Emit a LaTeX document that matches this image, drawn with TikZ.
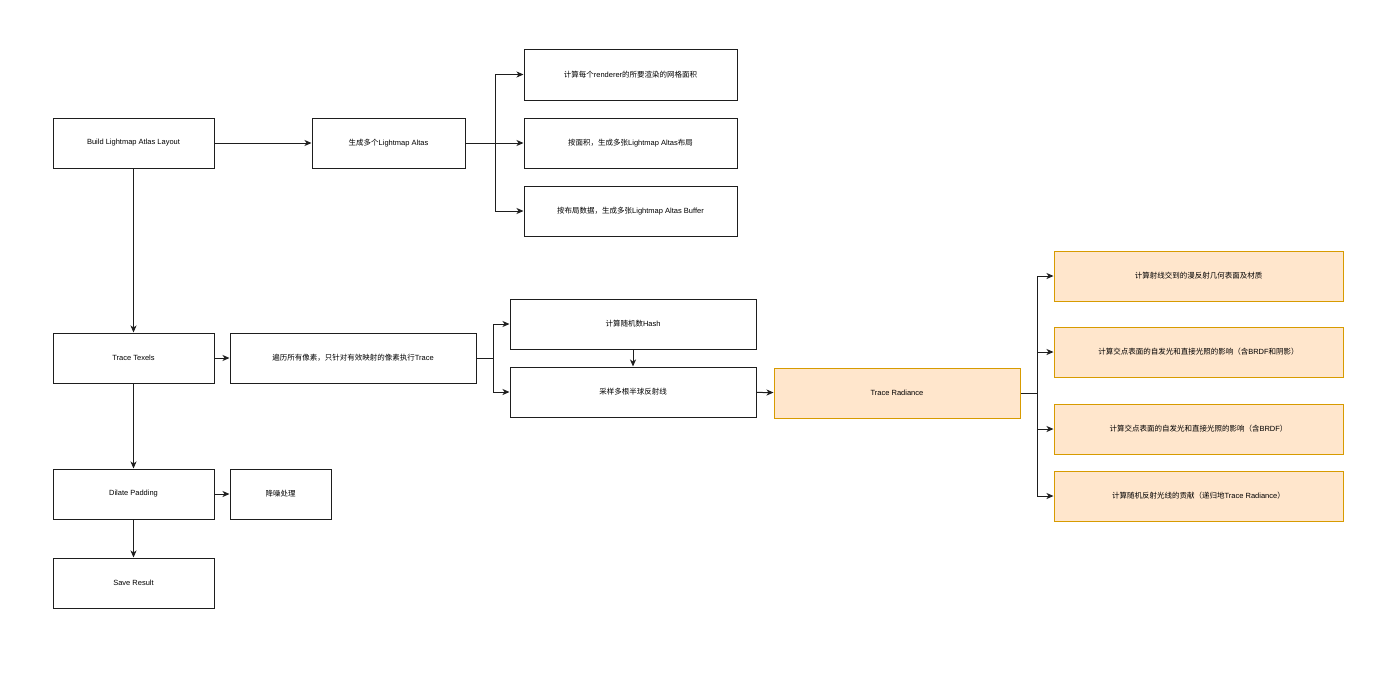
\documentclass[tikz,border=0pt]{standalone}
\usepackage{fontspec}
\setmainfont{Liberation Sans}
\newfontfamily\cjk{Noto Sans CJK SC}
\usetikzlibrary{arrows.meta}
\definecolor{linec}{RGB}{30,30,30}
\definecolor{orfill}{RGB}{255,230,204}
\definecolor{ordraw}{RGB}{215,155,0}
\tikzset{
  box/.style={draw=linec,line width=1pt,fill=white,inner sep=0pt,align=center,text=black,font=\fontsize{7.5}{9}\selectfont},
  obox/.style={box,draw=ordraw,fill=orfill},
  arr/.style={draw=linec,line width=1pt,-{Stealth[length=7pt,width=6pt,inset=2pt]}},
  ln/.style={draw=linec,line width=1pt}
}
\begin{document}
\begin{tikzpicture}[x=1pt,y=-1pt]
\useasboundingbox (0,0) rectangle (1389,681);
\node[box,minimum width=161pt,minimum height=50pt] (build) at (133.5,143) {Build Lightmap Atlas Layout};
\node[box,minimum width=153pt,minimum height=50pt] (gen) at (388.5,143) {{\cjk 生成多个}Lightmap Altas};
\node[box,minimum width=213pt,minimum height=51pt] (a1) at (630.5,74.5) {{\cjk 计算每个}renderer{\cjk 的所要渲染的网格面积}};
\node[box,minimum width=213pt,minimum height=50pt] (a2) at (630.5,143) {{\cjk 按面积，生成多张}Lightmap Altas{\cjk 布局}};
\node[box,minimum width=213pt,minimum height=50pt] (a3) at (630.5,211) {{\cjk 按布局数据，生成多张}Lightmap Altas Buffer};
\node[box,minimum width=161pt,minimum height=50pt] (tt) at (133.5,358) {Trace Texels};
\node[box,minimum width=246pt,minimum height=50pt] (bl) at (353,358) {{\cjk 遍历所有像素，只针对有效映射的像素执行}Trace};
\node[box,minimum width=246pt,minimum height=50pt] (hash) at (633,324) {{\cjk 计算随机数}Hash};
\node[box,minimum width=246pt,minimum height=50pt] (samp) at (633,392) {{\cjk 采样多根半球反射线}};
\node[obox,minimum width=246pt,minimum height=50pt] (tr) at (897,393) {Trace Radiance};
\node[obox,minimum width=289pt,minimum height=50pt] (o1) at (1198.5,276) {{\cjk 计算射线交到的漫反射几何表面及材质}};
\node[obox,minimum width=289pt,minimum height=50pt] (o2) at (1198.5,352) {{\cjk 计算交点表面的自发光和直接光照的影响（含}BRDF{\cjk 和阴影）}};
\node[obox,minimum width=289pt,minimum height=50pt] (o3) at (1198.5,429) {{\cjk 计算交点表面的自发光和直接光照的影响（含}BRDF{\cjk ）}};
\node[obox,minimum width=289pt,minimum height=50pt] (o4) at (1198.5,496) {{\cjk 计算随机反射光线的贡献（递归地}Trace Radiance{\cjk ）}};
\node[box,minimum width=161pt,minimum height=50pt] (dp) at (133.5,494) {Dilate Padding};
\node[box,minimum width=101pt,minimum height=50pt] (dn) at (280.5,494) {{\cjk 降噪处理}};
\node[box,minimum width=161pt,minimum height=50pt] (sr) at (133.5,583) {Save Result};
\coordinate (j1) at ([xshift=30pt]gen.east);
\coordinate (j2) at ([xshift=17pt]bl.east);
\coordinate (j3) at ([xshift=17pt]tr.east);
\draw[arr] (build) -- (gen);
\draw[ln] (gen.east) -- (j1);
\draw[arr] (j1) |- (a1.west);
\draw[arr] (j1) -- (a2.west);
\draw[arr] (j1) |- (a3.west);
\draw[arr] (build) -- (tt);
\draw[arr] (tt) -- (bl);
\draw[ln] (bl.east) -- (j2);
\draw[arr] (j2) |- (hash.west);
\draw[arr] (j2) |- (samp.west);
\draw[arr] (hash) -- (samp);
\draw[arr] (samp) -- (tr);
\draw[ln] (tr.east) -- (j3);
\draw[arr] (j3) |- (o1.west);
\draw[arr] (j3) |- (o2.west);
\draw[arr] (j3) |- (o3.west);
\draw[arr] (j3) |- (o4.west);
\draw[arr] (tt) -- (dp);
\draw[arr] (dp) -- (dn);
\draw[arr] (dp) -- (sr);
\end{tikzpicture}
\end{document}
